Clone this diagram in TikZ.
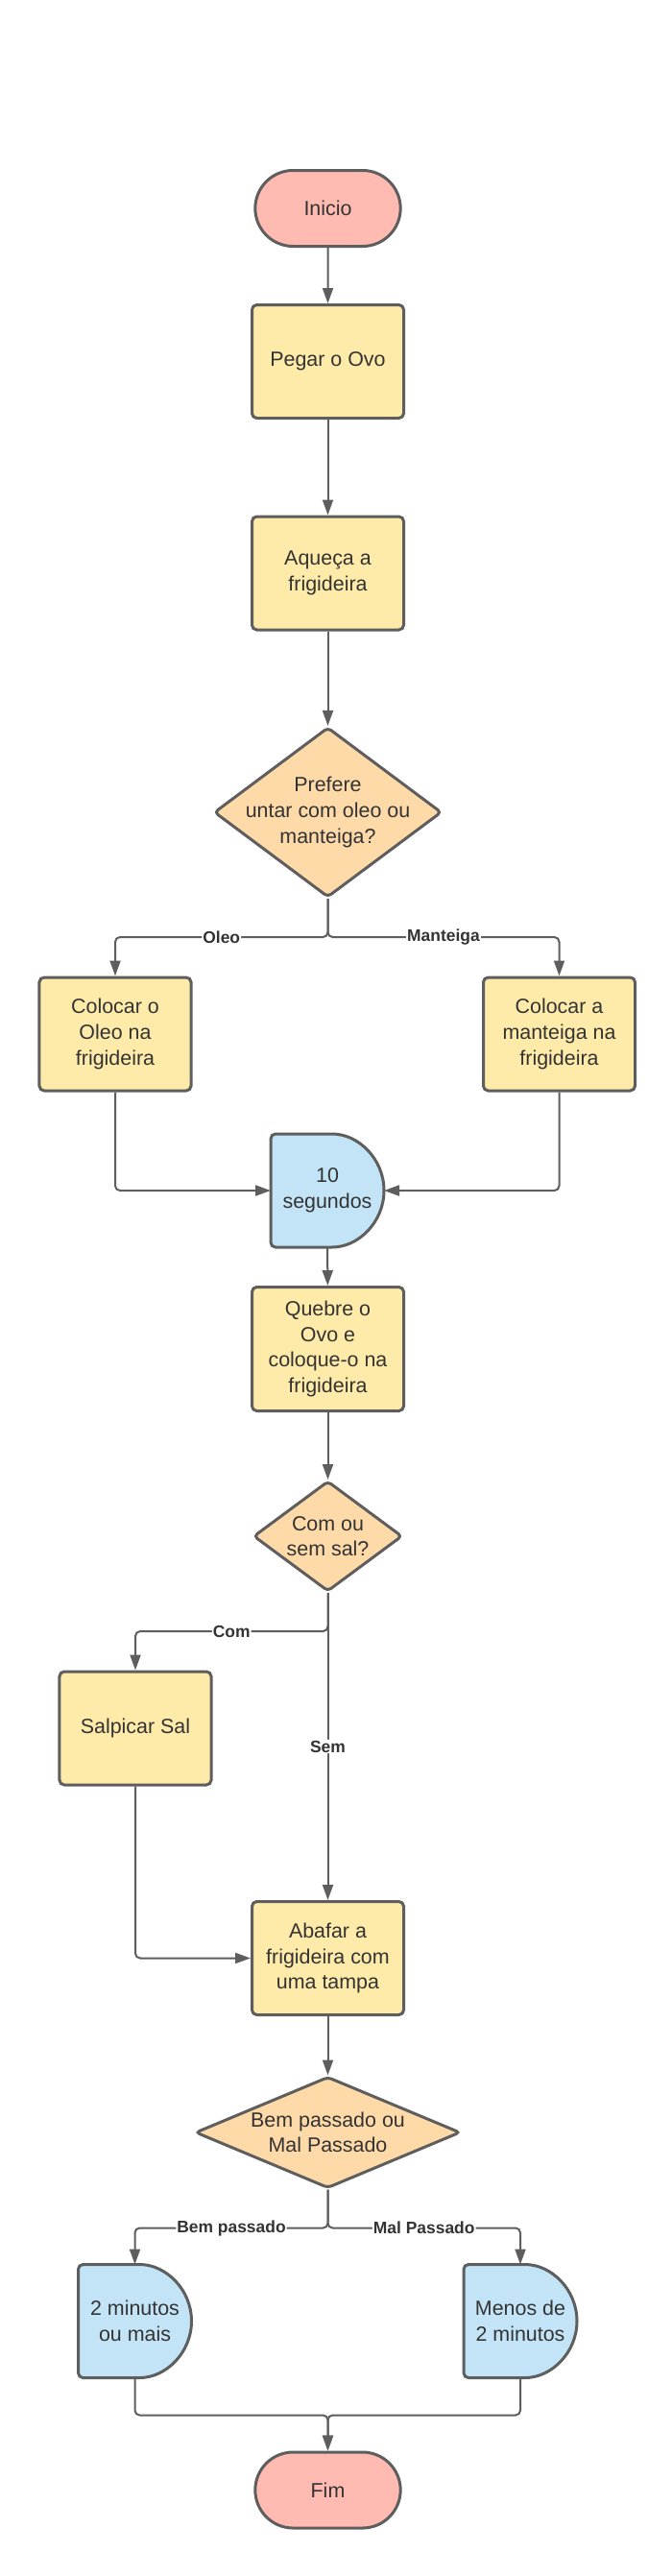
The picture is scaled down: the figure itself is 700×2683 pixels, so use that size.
\documentclass[tikz,border=0pt]{standalone}
\usepackage{fontspec}
\setmainfont{Liberation Sans}
\usetikzlibrary{shapes.geometric,shapes.misc,arrows.meta,backgrounds}

\definecolor{linecol}{HTML}{5E5E5E}
\definecolor{textcol}{HTML}{333333}
\definecolor{termfill}{HTML}{FFBBB1}
\definecolor{procfill}{HTML}{FFEBA9}
\definecolor{decfill}{HTML}{FFDAA9}
\definecolor{delayfill}{HTML}{C3E4F6}

\begin{document}
\begin{tikzpicture}[x=1bp, y=1bp,
    every node/.style={text=textcol, font=\fontsize{21.5}{26.7}\selectfont, align=center},
    terminal/.style={rounded rectangle, draw=linecol, line width=3bp, fill=termfill, minimum width=158bp, minimum height=79bp},
    process/.style={rectangle, rounded corners=5bp, draw=linecol, line width=3bp, fill=procfill, minimum width=158bp, minimum height=118bp, inner sep=2bp},
    decision/.style={diamond, rounded corners=4bp, draw=linecol, line width=3bp, fill=decfill, inner sep=0pt},
    delaybox/.style={rectangle, minimum width=118bp, minimum height=118bp, inner sep=0pt, outer sep=0pt},
    delayline/.style={draw=linecol, line width=3bp, fill=delayfill, rounded corners=5bp},
    lbl/.style={font=\fontsize{17.5}{20}\selectfont\bfseries, fill=white, inner sep=1bp},
    conn/.style={draw=linecol, line width=2bp, rounded corners=5bp},
    connarrow/.style={conn, -{Triangle[length=16bp, width=11bp]}}]

    \useasboundingbox (0,0) rectangle (700,-2683);

    \node[terminal] (inicio) at (341.5,-217) {Inicio};
    \node[process] (pegar) at (341.5,-376.5) {Pegar o Ovo};
    \node[process] (aqueca) at (341.5,-597) {Aqueça a\\frigideira};

    \node[decision, minimum width=237bp, minimum height=177bp] (prefere) at (341.5,-846) {};
    \node (prefereT) at (prefere) {Prefere\\untar com oleo ou\\manteiga?};

    \node[process] (colOleo) at (120,-1077) {Colocar o\\Oleo na\\frigideira};
    \node[process] (colMant) at (582.5,-1077) {Colocar a\\manteiga na\\frigideira};

    \node[delaybox] (espera) at (341,-1240) {10\\segundos};

    \node[process, minimum height=129bp] (quebre) at (341.5,-1405) {Quebre o\\Ovo e\\coloque-o na\\frigideira};

    \node[decision, minimum width=155bp, minimum height=115bp] (comSal) at (341.5,-1600) {};
    \node (comSalT) at (comSal) {Com ou\\sem sal?};

    \node[process] (salpicar) at (141,-1800) {Salpicar Sal};
    \node[process] (abafar) at (341.5,-2039.5) {Abafar a\\frigideira com\\uma tampa};

    \node[decision, minimum width=276bp, minimum height=116bp] (ponto) at (341.5,-2221) {};
    \node (pontoT) at (ponto) {Bem passado ou\\Mal Passado};

    \node[delaybox] (bem) at (140.5,-2417.5) {2 minutos\\ou mais};
    \node[delaybox] (mal) at (542,-2417.5) {Menos de\\2 minutos};

    \node[terminal] (fim) at (341.5,-2593.5) {Fim};

    % delay shapes behind their texts
    \begin{scope}[on background layer]
        \foreach \d in {espera, bem, mal}
            \path[delayline] (\d.west) -- (\d.south west) -- (\d.south)
                arc[start angle=-90, end angle=90, radius=59bp] -- (\d.north west) -- cycle;
    \end{scope}

    \draw[connarrow] (inicio) -- (pegar);
    \draw[connarrow] (pegar) -- (aqueca);
    \draw[connarrow] (aqueca) -- (prefere);

    \draw[connarrow] (prefere.south) -- ++(0,-40) -| node[lbl, pos=0.25] {Oleo} (colOleo.north);
    \draw[connarrow] (prefere.south) -- ++(0,-40) -| node[lbl, pos=0.25] {Manteiga} (colMant.north);

    \draw[connarrow] (colOleo.south) |- (espera.west);
    \draw[connarrow] (colMant.south) |- (espera.east);
    \draw[connarrow] (espera) -- (quebre);
    \draw[connarrow] (quebre) -- (comSal);

    \draw[connarrow] (comSal.south) -- ++(0,-40) -| node[lbl, pos=0.25] {Com} (salpicar.north);
    \draw[connarrow] (comSal) -- node[lbl] {Sem} (abafar);
    \draw[connarrow] (salpicar.south) |- (abafar.west);

    \draw[connarrow] (abafar) -- (ponto);
    \draw[connarrow] (ponto.south) -- ++(0,-40) -| node[lbl, pos=0.25] {Bem passado} (bem.north);
    \draw[connarrow] (ponto.south) -- ++(0,-40) -| node[lbl, pos=0.25] {Mal Passado} (mal.north);

    \draw[connarrow] (bem.south) -- ++(0,-39) -| (fim.north);
    \draw[connarrow] (mal.south) -- ++(0,-39) -| (fim.north);

\end{tikzpicture}
\end{document}
